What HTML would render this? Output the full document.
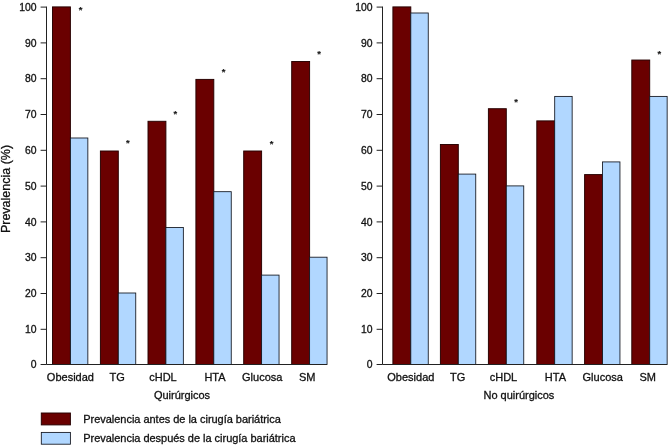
<!DOCTYPE html>
<html><head><meta charset="utf-8"><title>Prevalencia</title>
<style>
html,body{margin:0;padding:0;background:#fff;overflow:hidden}
svg{display:block}
.t{font-family:"Liberation Sans",sans-serif;font-size:11px;fill:#111;stroke:#111;stroke-width:0.3px}
.lg{letter-spacing:-0.025px}
.tk{font-size:10.4px}
.st{font-family:"Liberation Sans",sans-serif;font-weight:bold;font-size:9.4px;fill:#111;stroke:#111;stroke-width:0.12px}
.yl{font-family:"Liberation Sans",sans-serif;font-size:12.5px;fill:#111;stroke:#111;stroke-width:0.3px}
</style></head><body>
<svg width="668" height="445" viewBox="0 0 668 445">
<rect width="668" height="445" fill="#fff"/>
<rect x="52.50" y="6.90" width="17.9" height="357.60" fill="#6a0000" stroke="#260000" stroke-width="0.95"/>
<rect x="70.40" y="137.99" width="17.45" height="226.51" fill="#b1d7ff" stroke="#10131c" stroke-width="0.85"/>
<rect x="100.40" y="151.00" width="17.9" height="213.50" fill="#6a0000" stroke="#260000" stroke-width="0.95"/>
<rect x="118.30" y="293.00" width="17.45" height="71.50" fill="#b1d7ff" stroke="#10131c" stroke-width="0.85"/>
<rect x="148.00" y="121.29" width="17.9" height="243.21" fill="#6a0000" stroke="#260000" stroke-width="0.95"/>
<rect x="165.90" y="227.49" width="17.45" height="137.01" fill="#b1d7ff" stroke="#10131c" stroke-width="0.85"/>
<rect x="195.90" y="79.40" width="17.9" height="285.10" fill="#6a0000" stroke="#260000" stroke-width="0.95"/>
<rect x="213.80" y="191.69" width="17.45" height="172.81" fill="#b1d7ff" stroke="#10131c" stroke-width="0.85"/>
<rect x="243.70" y="151.00" width="17.9" height="213.50" fill="#6a0000" stroke="#260000" stroke-width="0.95"/>
<rect x="261.60" y="275.10" width="17.45" height="89.40" fill="#b1d7ff" stroke="#10131c" stroke-width="0.85"/>
<rect x="291.70" y="61.50" width="17.9" height="303.00" fill="#6a0000" stroke="#260000" stroke-width="0.95"/>
<rect x="309.60" y="257.20" width="17.45" height="107.30" fill="#b1d7ff" stroke="#10131c" stroke-width="0.85"/>
<path d="M46.5 6.6 V364.5 H327.05" fill="none" stroke="#222" stroke-width="1"/>
<path d="M40.6 364.50 H46.5" stroke="#222" stroke-width="1"/>
<text x="36.5" y="368.10" text-anchor="end" class="t tk">0</text>
<path d="M40.6 329.30 H46.5" stroke="#222" stroke-width="1"/>
<text x="36.5" y="332.90" text-anchor="end" class="t tk">10</text>
<path d="M40.6 293.50 H46.5" stroke="#222" stroke-width="1"/>
<text x="36.5" y="297.10" text-anchor="end" class="t tk">20</text>
<path d="M40.6 257.70 H46.5" stroke="#222" stroke-width="1"/>
<text x="36.5" y="261.30" text-anchor="end" class="t tk">30</text>
<path d="M40.6 221.90 H46.5" stroke="#222" stroke-width="1"/>
<text x="36.5" y="225.50" text-anchor="end" class="t tk">40</text>
<path d="M40.6 186.10 H46.5" stroke="#222" stroke-width="1"/>
<text x="36.5" y="189.70" text-anchor="end" class="t tk">50</text>
<path d="M40.6 150.30 H46.5" stroke="#222" stroke-width="1"/>
<text x="36.5" y="153.90" text-anchor="end" class="t tk">60</text>
<path d="M40.6 114.50 H46.5" stroke="#222" stroke-width="1"/>
<text x="36.5" y="118.10" text-anchor="end" class="t tk">70</text>
<path d="M40.6 78.70 H46.5" stroke="#222" stroke-width="1"/>
<text x="36.5" y="82.30" text-anchor="end" class="t tk">80</text>
<path d="M40.6 42.90 H46.5" stroke="#222" stroke-width="1"/>
<text x="36.5" y="46.50" text-anchor="end" class="t tk">90</text>
<path d="M40.6 7.10 H46.5" stroke="#222" stroke-width="1"/>
<text x="36.5" y="10.70" text-anchor="end" class="t tk">100</text>
<text x="70.40" y="381.3" text-anchor="middle" class="t">Obesidad</text>
<text x="117.25" y="381.3" text-anchor="middle" class="t">TG</text>
<text x="163.00" y="381.3" text-anchor="middle" class="t">cHDL</text>
<text x="215.00" y="381.3" text-anchor="middle" class="t">HTA</text>
<text x="262.25" y="381.3" text-anchor="middle" class="t">Glucosa</text>
<text x="307.25" y="381.3" text-anchor="middle" class="t">SM</text>
<text x="80.50" y="12.70" text-anchor="middle" class="st">*</text>
<text x="127.80" y="146.10" text-anchor="middle" class="st">*</text>
<text x="175.40" y="116.50" text-anchor="middle" class="st">*</text>
<text x="223.50" y="74.70" text-anchor="middle" class="st">*</text>
<text x="271.60" y="146.50" text-anchor="middle" class="st">*</text>
<text x="319.10" y="56.50" text-anchor="middle" class="st">*</text>
<text x="182.00" y="399.1" text-anchor="middle" class="t">Quirúrgicos</text>
<rect x="392.90" y="6.90" width="17.9" height="357.60" fill="#6a0000" stroke="#260000" stroke-width="0.95"/>
<rect x="410.80" y="12.99" width="17.45" height="351.51" fill="#b1d7ff" stroke="#10131c" stroke-width="0.85"/>
<rect x="440.40" y="144.51" width="17.9" height="219.99" fill="#6a0000" stroke="#260000" stroke-width="0.95"/>
<rect x="458.30" y="174.09" width="17.45" height="190.41" fill="#b1d7ff" stroke="#10131c" stroke-width="0.85"/>
<rect x="488.40" y="108.71" width="17.9" height="255.79" fill="#6a0000" stroke="#260000" stroke-width="0.95"/>
<rect x="506.30" y="185.90" width="17.45" height="178.60" fill="#b1d7ff" stroke="#10131c" stroke-width="0.85"/>
<rect x="536.80" y="120.89" width="17.9" height="243.61" fill="#6a0000" stroke="#260000" stroke-width="0.95"/>
<rect x="554.70" y="96.40" width="17.45" height="268.10" fill="#b1d7ff" stroke="#10131c" stroke-width="0.85"/>
<rect x="584.60" y="174.59" width="17.9" height="189.91" fill="#6a0000" stroke="#260000" stroke-width="0.95"/>
<rect x="602.50" y="161.91" width="17.45" height="202.59" fill="#b1d7ff" stroke="#10131c" stroke-width="0.85"/>
<rect x="631.80" y="60.03" width="17.9" height="304.47" fill="#6a0000" stroke="#260000" stroke-width="0.95"/>
<rect x="649.70" y="96.40" width="17.45" height="268.10" fill="#b1d7ff" stroke="#10131c" stroke-width="0.85"/>
<path d="M382.5 6.6 V364.5 H667.15" fill="none" stroke="#222" stroke-width="1"/>
<path d="M376.6 364.50 H382.5" stroke="#222" stroke-width="1"/>
<text x="372.5" y="368.10" text-anchor="end" class="t tk">0</text>
<path d="M376.6 329.30 H382.5" stroke="#222" stroke-width="1"/>
<text x="372.5" y="332.90" text-anchor="end" class="t tk">10</text>
<path d="M376.6 293.50 H382.5" stroke="#222" stroke-width="1"/>
<text x="372.5" y="297.10" text-anchor="end" class="t tk">20</text>
<path d="M376.6 257.70 H382.5" stroke="#222" stroke-width="1"/>
<text x="372.5" y="261.30" text-anchor="end" class="t tk">30</text>
<path d="M376.6 221.90 H382.5" stroke="#222" stroke-width="1"/>
<text x="372.5" y="225.50" text-anchor="end" class="t tk">40</text>
<path d="M376.6 186.10 H382.5" stroke="#222" stroke-width="1"/>
<text x="372.5" y="189.70" text-anchor="end" class="t tk">50</text>
<path d="M376.6 150.30 H382.5" stroke="#222" stroke-width="1"/>
<text x="372.5" y="153.90" text-anchor="end" class="t tk">60</text>
<path d="M376.6 114.50 H382.5" stroke="#222" stroke-width="1"/>
<text x="372.5" y="118.10" text-anchor="end" class="t tk">70</text>
<path d="M376.6 78.70 H382.5" stroke="#222" stroke-width="1"/>
<text x="372.5" y="82.30" text-anchor="end" class="t tk">80</text>
<path d="M376.6 42.90 H382.5" stroke="#222" stroke-width="1"/>
<text x="372.5" y="46.50" text-anchor="end" class="t tk">90</text>
<path d="M376.6 7.10 H382.5" stroke="#222" stroke-width="1"/>
<text x="372.5" y="10.70" text-anchor="end" class="t tk">100</text>
<text x="410.85" y="381.3" text-anchor="middle" class="t">Obesidad</text>
<text x="457.70" y="381.3" text-anchor="middle" class="t">TG</text>
<text x="503.45" y="381.3" text-anchor="middle" class="t">cHDL</text>
<text x="555.45" y="381.3" text-anchor="middle" class="t">HTA</text>
<text x="602.70" y="381.3" text-anchor="middle" class="t">Glucosa</text>
<text x="647.70" y="381.3" text-anchor="middle" class="t">SM</text>
<text x="516.00" y="104.50" text-anchor="middle" class="st">*</text>
<text x="659.30" y="56.80" text-anchor="middle" class="st">*</text>
<text x="518.90" y="399.1" text-anchor="middle" class="t">No quirúrgicos</text>
<text transform="translate(10,189) rotate(-90)" text-anchor="middle" class="yl">Prevalencia (%)</text>
<rect x="41.3" y="413.0" width="29.1" height="11.9" fill="#6a0000" stroke="#260000" stroke-width="0.95"/>
<rect x="41.3" y="432.4" width="29.1" height="11.8" fill="#b1d7ff" stroke="#10131c" stroke-width="0.85"/>
<text x="83.2" y="423" class="t lg">Prevalencia antes de la cirugía bariátrica</text>
<text x="83.2" y="441.5" class="t lg">Prevalencia después de la cirugía bariátrica</text>
</svg>
</body></html>
